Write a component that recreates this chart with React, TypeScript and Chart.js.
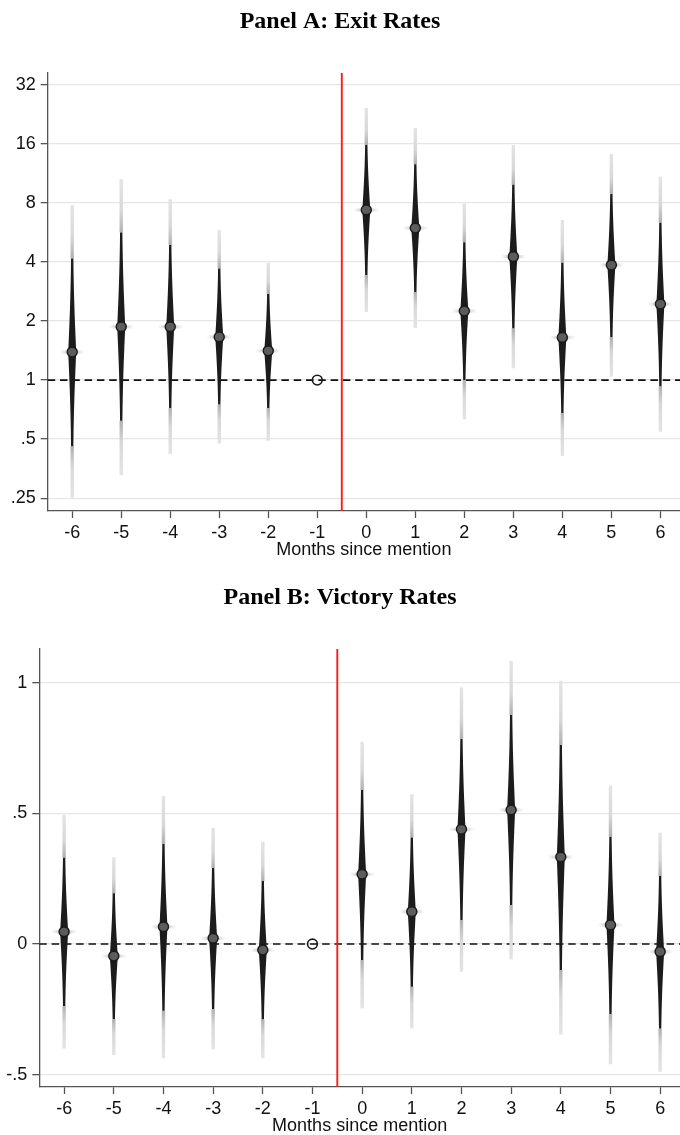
import { useEffect, useRef } from "react";
import { Chart, registerables } from "chart.js";

Chart.register(...registerables);

const months = [-6, -5, -4, -3, -2, -1, 0, 1, 2, 3, 4, 5, 6];

// Panel A: exit rates (ratios, log scale). -1 is the reference month.
const exitEst = [1.39, 1.87, 1.87, 1.66, 1.41, 1, 7.37, 5.96, 2.25, 4.26, 1.65, 3.86, 2.44];
const exitLo90 = [0.46, 0.62, 0.72, 0.75, 0.72, null, 3.43, 2.81, 1.0, 1.84, 0.68, 1.66, 0.93];
const exitHi90 = [4.17, 5.66, 4.88, 3.71, 2.75, null, 15.8, 12.6, 5.04, 9.9, 3.97, 8.9, 6.35];
const exitLo99 = [0.249, 0.328, 0.42, 0.475, 0.49, null, 2.22, 1.84, 0.63, 1.15, 0.41, 1.04, 0.545];
const exitHi99 = [7.8, 10.6, 8.36, 5.82, 3.97, null, 24.4, 19.3, 7.96, 15.8, 6.55, 14.2, 10.9];
const exitTicks = [0.25, 0.5, 1, 2, 4, 8, 16, 32];
const exitTickLabels = [".25", ".5", "1", "2", "4", "8", "16", "32"];

// Panel B: victory rates
const winEst = [0.047, -0.046, 0.066, 0.022, -0.023, 0, 0.267, 0.124, 0.439, 0.513, 0.333, 0.073, -0.029];
const winLo90 = [-0.237, -0.287, -0.255, -0.249, -0.288, null, -0.061, -0.163, 0.092, 0.149, -0.099, -0.268, -0.323];
const winHi90 = [0.33, 0.194, 0.383, 0.291, 0.241, null, 0.589, 0.408, 0.785, 0.876, 0.762, 0.411, 0.26];
const winLo99 = [-0.4, -0.425, -0.437, -0.403, -0.437, null, -0.246, -0.323, -0.106, -0.059, -0.346, -0.46, -0.489];
const winHi99 = [0.494, 0.332, 0.566, 0.445, 0.392, null, 0.774, 0.573, 0.982, 1.084, 1.008, 0.606, 0.426];
const winTicks = [-0.5, 0, 0.5, 1];
const winTickLabels = ["-.5", "0", ".5", "1"];

const eventLine = -0.5;

type Series = {
  est: number[];
  lo90: (number | null)[];
  hi90: (number | null)[];
  lo99: (number | null)[];
  hi99: (number | null)[];
  refValue: number;
};

function erf(x: number) {
  const t = 1 / (1 + 0.3275911 * x);
  return (
    1 -
    ((((1.061405429 * t - 1.453152027) * t + 1.421413741) * t - 0.284496736) * t + 0.254829592) *
      t *
      Math.exp(-x * x)
  );
}

// width of the smoothed ci, t = 0 at the estimate, 1 at the 90% bound
function ciWidth(t: number) {
  return 1.7 + 6.3 * (1 - erf((1.645 * t) / Math.SQRT2));
}

function violinPlugin(s: Series) {
  return {
    id: "violins",
    beforeDatasetsDraw(chart: any) {
      const { ctx, chartArea, scales } = chart;
      const xs = scales.x;
      const ys = scales.y;
      ctx.save();
      ctx.beginPath();
      ctx.rect(chartArea.left, chartArea.top, chartArea.width, chartArea.height);
      ctx.clip();

      // reference line
      const yRef = ys.getPixelForValue(s.refValue);
      ctx.setLineDash([7.5, 4.8]);
      ctx.strokeStyle = "#111";
      ctx.lineWidth = 1.6;
      ctx.beginPath();
      ctx.moveTo(chartArea.left, yRef);
      ctx.lineTo(chartArea.right, yRef);
      ctx.stroke();
      ctx.setLineDash([]);

      // event line
      const xe = xs.getPixelForValue(eventLine);
      ctx.strokeStyle = "#ff1a1a";
      ctx.lineWidth = 1.9;
      ctx.beginPath();
      ctx.moveTo(xe, chartArea.top);
      ctx.lineTo(xe, chartArea.bottom);
      ctx.stroke();

      months.forEach((m, i) => {
        const lo90 = s.lo90[i];
        const hi90 = s.hi90[i];
        const lo99 = s.lo99[i];
        const hi99 = s.hi99[i];
        if (lo90 == null || hi90 == null || lo99 == null || hi99 == null) return;
        const x = xs.getPixelForValue(m);
        const yc = ys.getPixelForValue(s.est[i]);
        const yH = ys.getPixelForValue(hi90);
        const yL = ys.getPixelForValue(lo90);
        const yHH = ys.getPixelForValue(hi99);
        const yLL = ys.getPixelForValue(lo99);

        // outer (light) parts of the interval
        const band = (from: number, to: number) => {
          const g = ctx.createLinearGradient(0, from, 0, to);
          g.addColorStop(0, "#b0b0b0");
          g.addColorStop(0.4, "#d8d8d8");
          g.addColorStop(1, "#e4e4e4");
          ctx.fillStyle = g;
          ctx.fillRect(x - 1.7, Math.min(from, to), 3.4, Math.abs(to - from));
        };
        band(yH, yHH);
        band(yL, yLL);

        // faint horizontal glow at the estimate
        const hg = ctx.createLinearGradient(x - 13, 0, x + 13, 0);
        hg.addColorStop(0, "rgba(210,210,210,0)");
        hg.addColorStop(0.5, "rgba(160,160,160,1)");
        hg.addColorStop(1, "rgba(210,210,210,0)");
        ctx.fillStyle = hg;
        ctx.fillRect(x - 13, yc - 1.6, 26, 3.2);

        // dark tapered 90% interval
        const N = 48;
        ctx.fillStyle = "#1c1c1c";
        ctx.beginPath();
        for (let k = N; k >= 0; k--) {
          const t = k / N;
          ctx.lineTo(x + ciWidth(t) / 2, yc + (yH - yc) * t);
        }
        for (let k = 0; k <= N; k++) {
          const t = k / N;
          ctx.lineTo(x + ciWidth(t) / 2, yc + (yL - yc) * t);
        }
        for (let k = N; k >= 0; k--) {
          const t = k / N;
          ctx.lineTo(x - ciWidth(t) / 2, yc + (yL - yc) * t);
        }
        for (let k = 0; k <= N; k++) {
          const t = k / N;
          ctx.lineTo(x - ciWidth(t) / 2, yc + (yH - yc) * t);
        }
        ctx.closePath();
        ctx.fill();
      });
      ctx.restore();
    },
  };
}

type PanelProps = {
  top: number;
  height: number;
  title: string;
  titleTop: number;
  yWidth: number;
  logScale: boolean;
  yMin: number;
  yMax: number;
  ticks: number[];
  tickLabels: string[];
  series: Series;
};

const tickFont = { family: "'Liberation Sans', Arial, sans-serif", size: 18 };

function Panel(p: PanelProps) {
  const chartRef = useRef<HTMLCanvasElement | null>(null);
  useEffect(() => {
    const ctx = chartRef.current?.getContext("2d");
    if (!ctx) return;
    const chart = new Chart(ctx, {
      type: "scatter",
      data: {
        datasets: [
          {
            data: months.map((m, i) => ({ x: m, y: p.series.est[i] })),
            pointRadius: 4.9,
            pointHoverRadius: 4.9,
            borderWidth: 1.6,
            borderColor: "#1a1a1a",
            backgroundColor: months.map((_, i) =>
              p.series.lo90[i] == null ? "rgba(255,255,255,0)" : "rgba(120,120,120,0.7)"
            ),
          },
        ],
      },
      options: {
        animation: false,
        responsive: true,
        maintainAspectRatio: false,
        events: [],
        layout: { padding: 0, autoPadding: false },
        plugins: {
          legend: { display: false },
          tooltip: { enabled: false },
          title: {
            display: true,
            text: p.title,
            color: "#000",
            font: { family: "'Liberation Serif', 'Times New Roman', serif", size: 24, weight: "bold" },
            padding: { top: p.titleTop, bottom: 36.6 },
          },
        },
        scales: {
          x: {
            type: "linear",
            min: -6.5,
            max: 6.4,
            afterBuildTicks: (s: any) => {
              s.ticks = months.map((v) => ({ value: v }));
            },
            afterFit: (s: any) => {
              s.height = 54;
              s.paddingLeft = 0;
              s.paddingRight = 0;
            },
            grid: { drawOnChartArea: false, tickLength: 7, tickColor: "#555", tickWidth: 1.3 },
            border: { color: "#555", width: 1.3 },
            ticks: {
              font: tickFont,
              color: "#111",
              padding: 4.2,
              maxRotation: 0,
              autoSkip: false,
              callback: (v: any) => String(v),
            },
            title: {
              display: true,
              text: "Months since mention",
              color: "#111",
              font: tickFont,
              padding: { top: 0, bottom: 4 },
            },
          },
          y: {
            type: p.logScale ? "logarithmic" : "linear",
            min: p.yMin,
            max: p.yMax,
            afterBuildTicks: (s: any) => {
              s.ticks = p.ticks.map((v) => ({ value: v }));
            },
            afterFit: (s: any) => {
              s.width = p.yWidth;
            },
            grid: { color: "#e6e6e6", lineWidth: 1.3, tickLength: 7, tickColor: "#555", tickWidth: 1.3 },
            border: { color: "#555", width: 1.3 },
            ticks: {
              font: tickFont,
              color: "#111",
              padding: 5,
              autoSkip: false,
              callback: (v: any) => {
                const k = p.ticks.findIndex((t) => Math.abs(t - v) < 1e-9);
                return k >= 0 ? p.tickLabels[k] : "";
              },
            },
          },
        },
      } as any,
      plugins: [violinPlugin(p.series)],
    });
    return () => chart.destroy();
  }, []);

  return (
    <div style={{ position: "absolute", left: 0, top: p.top, width: 680, height: p.height }}>
      <canvas ref={chartRef}></canvas>
    </div>
  );
}

export default function App() {
  return (
    <div style={{ position: "absolute", left: 0, top: 0, width: 680, height: 1135, overflow: "hidden", background: "#fff" }}>
      <Panel
        top={0}
        height={565}
        title="Panel A: Exit Rates"
        titleTop={7.6}
        yWidth={47.7}
        logScale={true}
        yMin={0.215}
        yMax={36.8}
        ticks={exitTicks}
        tickLabels={exitTickLabels}
        series={{ est: exitEst, lo90: exitLo90, hi90: exitHi90, lo99: exitLo99, hi99: exitHi99, refValue: 1 }}
      />
      <Panel
        top={565}
        height={576}
        title="Panel B: Victory Rates"
        titleTop={18.6}
        yWidth={39.3}
        logScale={false}
        yMin={-0.547}
        yMax={1.129}
        ticks={winTicks}
        tickLabels={winTickLabels}
        series={{ est: winEst, lo90: winLo90, hi90: winHi90, lo99: winLo99, hi99: winHi99, refValue: 0 }}
      />
    </div>
  );
}
